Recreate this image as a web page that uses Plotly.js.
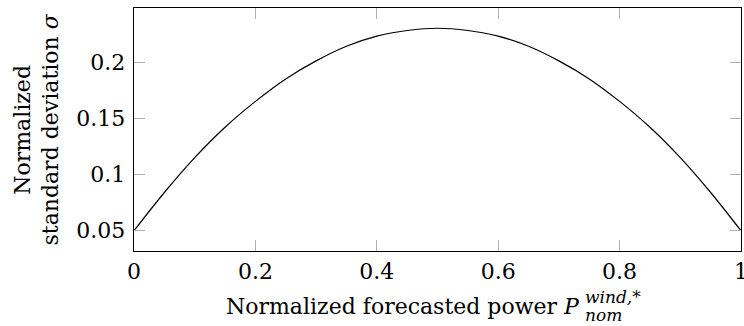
<!DOCTYPE html>
<html>
<head>
<meta charset="utf-8">
<script src="https://cdn.plot.ly/plotly-3.0.1.min.js"></script>
<style>html,body{margin:0;padding:0;background:#fff;}#chart{width:744px;height:326px;}</style>
</head>
<body>
<div id="chart"></div>
<script>
// Data
const forecastPower = [0, 0.05, 0.1, 0.15, 0.2, 0.25, 0.3, 0.35, 0.4, 0.45, 0.5, 0.55, 0.6, 0.65, 0.7, 0.75, 0.8, 0.85, 0.9, 0.95, 1];
const stdDeviation = [0.05, 0.084, 0.115, 0.142, 0.165, 0.185, 0.201, 0.214, 0.223, 0.228, 0.230, 0.228, 0.223, 0.214, 0.201, 0.185, 0.165, 0.142, 0.115, 0.084, 0.05];
const xTickVals = [0, 0.2, 0.4, 0.6, 0.8, 1];
const xTickText = ["0", "0.2", "0.4", "0.6", "0.8", "1"];
const yTickVals = [0.05, 0.1, 0.15, 0.2];
const yTickText = ["0.05", "0.1", "0.15", "0.2"];

const FONT = "DejaVu Serif";
const FS = 22;
const SFS = 17;

const trace = {
  x: forecastPower,
  y: stdDeviation,
  type: "scatter",
  mode: "lines",
  line: {color: "#000", width: 1.2, shape: "spline", smoothing: 1},
  hoverinfo: "skip"
};

const axisCommon = {
  showgrid: false,
  zeroline: false,
  showline: true,
  linecolor: "#000",
  linewidth: 1.3,
  mirror: "ticks",
  ticks: "inside",
  ticklen: 11,
  tickwidth: 1,
  tickcolor: "#b0b0b0",
  tickfont: {family: FONT, size: FS, color: "#000"},
  tickmode: "array",
  ticklabeloverflow: "allow"
};

const layout = {
  width: 744,
  height: 326,
  margin: {l: 134, r: 3, t: 8, b: 75},
  paper_bgcolor: "#fff",
  plot_bgcolor: "#fff",
  showlegend: false,
  font: {family: FONT, size: FS, color: "#000"},
  xaxis: Object.assign({}, axisCommon, {
    range: [0, 1],
    tickvals: xTickVals,
    ticktext: xTickText
  }),
  yaxis: Object.assign({}, axisCommon, {
    range: [0.032, 0.248],
    tickvals: yTickVals,
    ticktext: yTickText,
    ticklabelstandoff: 3
  }),
  annotations: [
    {
      text: "Normalized<br>standard deviation <i>σ</i>",
      xref: "paper", yref: "paper", x: 0, y: 0.5,
      xanchor: "center", yanchor: "middle", xshift: -98,
      textangle: -90, showarrow: false,
      font: {family: FONT, size: FS, color: "#000"}
    },
    {
      text: "Normalized forecasted power <i>P</i>",
      xref: "paper", yref: "paper", x: 0.738, y: 0,
      xanchor: "right", yanchor: "middle", yshift: -55,
      showarrow: false,
      font: {family: FONT, size: FS, color: "#000"}
    },
    {
      text: "<i>wind,*</i>",
      xref: "paper", yref: "paper", x: 0.738, y: 0,
      xanchor: "left", yanchor: "middle", xshift: 1, yshift: -46,
      showarrow: false,
      font: {family: FONT, size: SFS, color: "#000"}
    },
    {
      text: "<i>nom</i>",
      xref: "paper", yref: "paper", x: 0.738, y: 0,
      xanchor: "left", yanchor: "middle", xshift: 1, yshift: -64,
      showarrow: false,
      font: {family: FONT, size: SFS, color: "#000"}
    }
  ]
};

Plotly.newPlot("chart", [trace], layout, {displayModeBar: false, staticPlot: true});
</script>
</body>
</html>
